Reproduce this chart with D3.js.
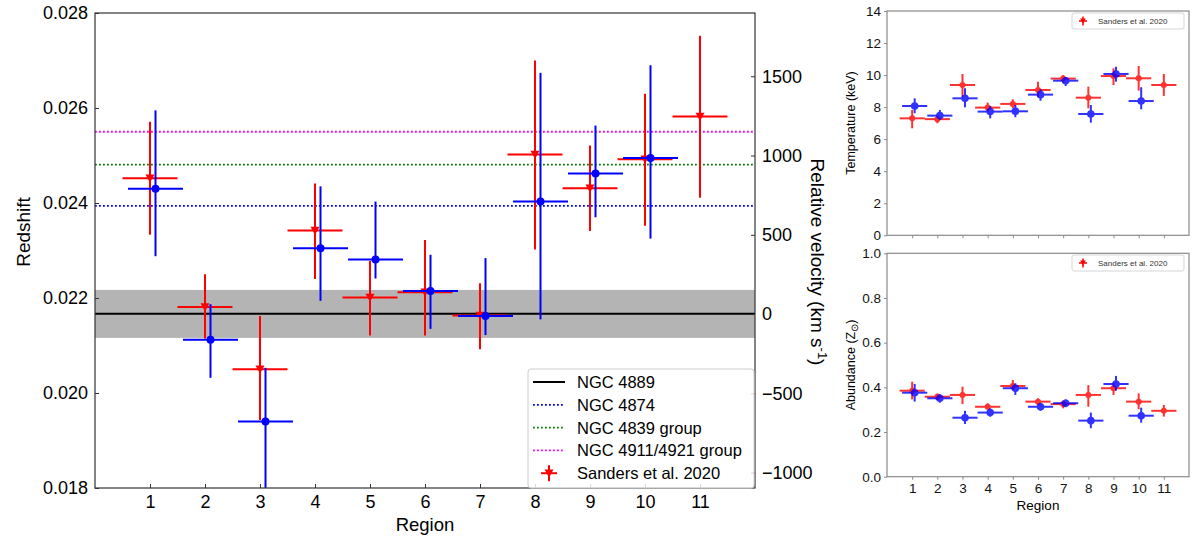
<!DOCTYPE html>
<html>
<head>
<meta charset="utf-8">
<script src="https://cdn.jsdelivr.net/npm/d3@7"></script>
<style>
  html, body { margin: 0; padding: 0; background: #fff; }
  svg { display: block; font-family: "Liberation Sans", Arial, sans-serif; }
</style>
</head>
<body>
<svg id="chart" width="1200" height="538"></svg>
<script>
// ---------------- DATA ----------------
const regions = [1, 2, 3, 4, 5, 6, 7, 8, 9, 10, 11];
const blueRegions = [1, 2, 3, 4, 5, 6, 7, 8, 9, 10];

// Redshift (Sanders et al. 2020, red)
const zRed   = [0.02452, 0.02181, 0.02050, 0.02342, 0.02201, 0.02212, 0.02163, 0.02502, 0.02431, 0.02492, 0.02582];
const zRedLo = [0.02333, 0.02115, 0.01943, 0.02240, 0.02121, 0.02121, 0.02092, 0.02302, 0.02341, 0.02352, 0.02411];
const zRedHi = [0.02571, 0.02250, 0.02162, 0.02441, 0.02278, 0.02322, 0.02231, 0.02700, 0.02521, 0.02630, 0.02752];
// Redshift (this work, blue)
const zBlue   = [0.02430, 0.02112, 0.01940, 0.02305, 0.02281, 0.02215, 0.02162, 0.02403, 0.02462, 0.02495];
const zBlueLo = [0.02288, 0.02032, 0.01770, 0.02194, 0.02241, 0.02135, 0.02122, 0.02155, 0.02370, 0.02325];
const zBlueHi = [0.02595, 0.02187, 0.02053, 0.02435, 0.02403, 0.02291, 0.02284, 0.02674, 0.02563, 0.02690];

// Reference redshifts
const zNGC4889 = 0.02167;
const zNGC4889Band = [0.02116, 0.02217];
const zNGC4874 = 0.02394;
const zNGC4839 = 0.02481;
const zNGC4911 = 0.02550;

const zTicks = [0.018, 0.020, 0.022, 0.024, 0.026, 0.028];
const vTicks = [-1000, -500, 0, 500, 1000, 1500];
const vDomain = [-1097, 1899];

// Temperature (keV)
const tRed   = [7.30, 7.25, 9.38, 7.97, 8.20, 9.07, 9.78, 8.59, 9.94, 9.80, 9.38];
const tRedLo = [6.68, 6.99, 8.65, 7.72, 7.93, 8.65, 9.53, 7.93, 9.38, 9.03, 8.70];
const tRedHi = [7.82, 7.50, 10.07, 8.28, 8.49, 9.59, 10.00, 9.28, 10.42, 10.57, 10.07];
const tBlue   = [8.07, 7.47, 8.55, 7.72, 7.74, 8.78, 9.65, 7.57, 10.07, 8.38];
const tBlueLo = [7.62, 7.20, 7.99, 7.30, 7.37, 8.40, 9.32, 7.03, 9.59, 7.86];
const tBlueHi = [8.55, 7.82, 9.18, 8.07, 8.13, 9.11, 9.86, 8.13, 10.52, 9.24];
const tTicks = [0, 2, 4, 6, 8, 10, 12, 14];

// Abundance (Zsun)
const aRed   = [0.385, 0.358, 0.366, 0.313, 0.406, 0.336, 0.325, 0.366, 0.396, 0.336, 0.295];
const aRedLo = [0.346, 0.343, 0.325, 0.302, 0.388, 0.321, 0.306, 0.313, 0.366, 0.302, 0.269];
const aRedHi = [0.425, 0.373, 0.403, 0.329, 0.433, 0.351, 0.340, 0.410, 0.421, 0.373, 0.321];
const aBlue   = [0.376, 0.351, 0.264, 0.287, 0.396, 0.313, 0.329, 0.251, 0.415, 0.273];
const aBlueLo = [0.336, 0.331, 0.236, 0.269, 0.366, 0.295, 0.311, 0.217, 0.385, 0.242];
const aBlueHi = [0.415, 0.370, 0.295, 0.306, 0.418, 0.331, 0.346, 0.287, 0.451, 0.309];
const aTicks = [0.0, 0.2, 0.4, 0.6, 0.8, 1.0];

const legendMain = ["NGC 4889", "NGC 4874", "NGC 4839 group", "NGC 4911/4921 group", "Sanders et al. 2020"];
const legendSmall = "Sanders et al. 2020";

// ---------------- DRAW ----------------
const RED = "#ff0000", BLUE = "#0000ff";
const svg = d3.select("#chart");
const blueOffset = 0.1, xHalf = 0.5;

function triPath(s) { return `M${-s},${-s*0.85}L${s},${-s*0.85}L0,${s}Z`; }

function drawSeries(g, xs, ys, lo, hi, xOff, color, x, y, opts) {
  const grp = g.append("g").attr("opacity", opts.opacity || 1);
  xs.forEach((r, i) => {
    const cx = x(r + xOff), cy = y(ys[i]);
    grp.append("line").attr("x1", x(r + xOff - xHalf)).attr("x2", x(r + xOff + xHalf))
      .attr("y1", cy).attr("y2", cy).attr("stroke", color).attr("stroke-width", opts.lw);
    grp.append("line").attr("x1", cx).attr("x2", cx)
      .attr("y1", y(lo[i])).attr("y2", y(hi[i])).attr("stroke", color).attr("stroke-width", opts.lw);
    if (opts.marker === "tri") {
      grp.append("path").attr("d", triPath(opts.ms)).attr("transform", `translate(${cx},${cy})`).attr("fill", color);
    } else {
      grp.append("circle").attr("cx", cx).attr("cy", cy).attr("r", opts.ms).attr("fill", color);
    }
  });
}

// ---- Main panel ----
const M = { l: 95, r: 755, t: 13, b: 488 };
const x = d3.scaleLinear().domain([0, 12]).range([M.l, M.r]);
const y = d3.scaleLinear().domain([0.018, 0.028]).range([M.b, M.t]);
const yv = d3.scaleLinear().domain(vDomain).range([M.b, M.t]);

svg.append("defs").append("clipPath").attr("id", "clipMain")
  .append("rect").attr("x", M.l).attr("y", M.t).attr("width", M.r - M.l).attr("height", M.b - M.t);

const gm = svg.append("g").attr("clip-path", "url(#clipMain)");
gm.append("rect").attr("x", M.l).attr("width", M.r - M.l)
  .attr("y", y(zNGC4889Band[1])).attr("height", y(zNGC4889Band[0]) - y(zNGC4889Band[1]))
  .attr("fill", "#b4b4b4");
gm.append("line").attr("x1", M.l).attr("x2", M.r).attr("y1", y(zNGC4889)).attr("y2", y(zNGC4889))
  .attr("stroke", "#000").attr("stroke-width", 2);
[[zNGC4874, "#0000ff"], [zNGC4839, "#008000"], [zNGC4911, "#ff00ff"]].forEach(([z, c]) => {
  gm.append("line").attr("x1", M.l).attr("x2", M.r).attr("y1", y(z)).attr("y2", y(z))
    .attr("stroke", c).attr("stroke-width", 1.8).attr("stroke-dasharray", "1.8,2.2");
});
drawSeries(gm, regions, zRed, zRedLo, zRedHi, 0, RED, x, y, { lw: 2, marker: "tri", ms: 4.5 });
drawSeries(gm, blueRegions, zBlue, zBlueLo, zBlueHi, blueOffset, BLUE, x, y, { lw: 2, marker: "circle", ms: 4 });

// frame
svg.append("rect").attr("x", M.l).attr("y", M.t).attr("width", M.r - M.l).attr("height", M.b - M.t)
  .attr("fill", "none").attr("stroke", "#333").attr("stroke-width", 1.2);

// axes
const axL = svg.append("g").attr("transform", `translate(${M.l},0)`)
  .call(d3.axisLeft(y).tickValues(zTicks).tickFormat(d3.format(".3f")).tickSizeInner(-4).tickSizeOuter(0).tickPadding(7));
const axR = svg.append("g").attr("transform", `translate(${M.r},0)`)
  .call(d3.axisRight(yv).tickValues(vTicks).tickFormat(d3.format("d")).tickSizeInner(-4).tickSizeOuter(0).tickPadding(7));
const axB = svg.append("g").attr("transform", `translate(0,${M.b})`)
  .call(d3.axisBottom(x).tickValues(regions).tickFormat(d3.format("d")).tickSizeInner(-4).tickSizeOuter(0).tickPadding(7));
[axL, axR, axB].forEach(a => {
  a.select(".domain").remove();
  a.selectAll("line").attr("stroke", "#333");
  a.selectAll("text").attr("font-size", 18).attr("fill", "#000")
    .attr("font-family", "Liberation Sans, Arial, sans-serif");
});

svg.append("text").attr("transform", `translate(30,232) rotate(-90)`).attr("text-anchor", "middle")
  .attr("font-size", 19).text("Redshift");
const rl = svg.append("text").attr("transform", `translate(811,262) rotate(90)`).attr("text-anchor", "middle")
  .attr("font-size", 19);
rl.append("tspan").text("Relative velocity (km s");
rl.append("tspan").attr("dy", -7).attr("font-size", 13).text("-1");
rl.append("tspan").attr("dy", 7).text(")");
svg.append("text").attr("x", (M.l + M.r) / 2).attr("y", 531).attr("text-anchor", "middle")
  .attr("font-size", 18.5).text("Region");

// legend
const L = { x: 528, y: 369, w: 226, h: 119 };
const lg = svg.append("g");
lg.append("rect").attr("x", L.x).attr("y", L.y).attr("width", L.w).attr("height", L.h).attr("rx", 3)
  .attr("fill", "#fff").attr("fill-opacity", 0.8).attr("stroke", "#cccccc").attr("stroke-width", 1);
const rowY = i => 382 + i * 22.8;
const lineStyles = [["#000", null, 2], ["#0000ff", "1.8,2.2", 1.8], ["#008000", "1.8,2.2", 1.8], ["#ff00ff", "1.8,2.2", 1.8]];
lineStyles.forEach(([c, dash, w], i) => {
  const l = lg.append("line").attr("x1", 533).attr("x2", 565).attr("y1", rowY(i)).attr("y2", rowY(i))
    .attr("stroke", c).attr("stroke-width", w);
  if (dash) l.attr("stroke-dasharray", dash);
});
{
  const cy = rowY(4), cx = 549;
  lg.append("line").attr("x1", cx - 8).attr("x2", cx + 8).attr("y1", cy).attr("y2", cy).attr("stroke", RED).attr("stroke-width", 2);
  lg.append("line").attr("x1", cx).attr("x2", cx).attr("y1", cy - 8).attr("y2", cy + 8).attr("stroke", RED).attr("stroke-width", 2);
  lg.append("path").attr("d", triPath(4.5)).attr("transform", `translate(${cx},${cy})`).attr("fill", RED);
}
legendMain.forEach((t, i) => {
  lg.append("text").attr("x", 577).attr("y", rowY(i) + 6).attr("font-size", 16.5).text(t);
});

// ---- Small panels ----
function smallPanel(top, bottom, domain, ticks, fmt, xs, ys, ysLo, ysHi, xb, yb, ybLo, ybHi, showX, legY) {
  const P = { l: 887, r: 1189 };
  const sx = d3.scaleLinear().domain([0, 12]).range([P.l, P.r]);
  const sy = d3.scaleLinear().domain(domain).range([bottom, top]);
  const g = svg.append("g");
  drawSeries(g, xs, ys, ysLo, ysHi, 0, RED, sx, sy, { lw: 2, marker: "circle", ms: 3, opacity: 0.8 });
  drawSeries(g, xb, yb, ybLo, ybHi, blueOffset, BLUE, sx, sy, { lw: 2, marker: "circle", ms: 3.8, opacity: 0.8 });
  g.append("rect").attr("x", P.l).attr("y", top).attr("width", P.r - P.l).attr("height", bottom - top)
    .attr("fill", "none").attr("stroke", "#8a8a8a").attr("stroke-width", 1.2);
  const ay = g.append("g").attr("transform", `translate(${P.l},0)`)
    .call(d3.axisLeft(sy).tickValues(ticks).tickFormat(fmt).tickSizeInner(3).tickSizeOuter(0).tickPadding(3));
  const ax = g.append("g").attr("transform", `translate(0,${bottom})`)
    .call(d3.axisBottom(sx).tickValues(regions).tickFormat(showX ? d3.format("d") : () => "").tickSizeInner(3).tickSizeOuter(0).tickPadding(4));
  [ay, ax].forEach(a => {
    a.select(".domain").remove();
    a.selectAll("line").attr("stroke", "#8a8a8a");
    a.selectAll("text").attr("font-size", 13.5).attr("fill", "#111")
      .attr("font-family", "Liberation Sans, Arial, sans-serif");
  });
  // legend
  const lgx = 1072, lgw = 112, lgh = 16;
  g.append("rect").attr("x", lgx).attr("y", legY).attr("width", lgw).attr("height", lgh).attr("rx", 2)
    .attr("fill", "#fff").attr("stroke", "#ccc").attr("stroke-width", 0.8);
  const mx = 1083, my = legY + lgh / 2;
  g.append("line").attr("x1", mx - 4).attr("x2", mx + 4).attr("y1", my).attr("y2", my).attr("stroke", RED).attr("stroke-width", 1.5);
  g.append("line").attr("x1", mx).attr("x2", mx).attr("y1", my - 4.5).attr("y2", my + 4.5).attr("stroke", RED).attr("stroke-width", 1.5);
  g.append("path").attr("d", triPath(2.8)).attr("transform", `translate(${mx},${my})`).attr("fill", RED);
  g.append("text").attr("x", 1098).attr("y", my + 3).attr("font-size", 8).attr("fill", "#333").text(legendSmall);
  return g;
}

smallPanel(11, 235.3, [0, 14], tTicks, d3.format("d"), regions, tRed, tRedLo, tRedHi,
  blueRegions, tBlue, tBlueLo, tBlueHi, false, 13);
smallPanel(253.3, 476.7, [0, 1], aTicks, d3.format(".1f"), regions, aRed, aRedLo, aRedHi,
  blueRegions, aBlue, aBlueLo, aBlueHi, true, 255);

svg.append("text").attr("transform", "translate(855,123) rotate(-90)").attr("text-anchor", "middle")
  .attr("font-size", 12.5).text("Temperature (keV)");
const ab = svg.append("text").attr("transform", "translate(855,365) rotate(-90)").attr("text-anchor", "middle")
  .attr("font-size", 12.5);
ab.append("tspan").text("Abundance (Z");
ab.append("tspan").attr("dy", 3).attr("font-size", 10).text("\u2299");
ab.append("tspan").attr("dy", -3).text(")");
svg.append("text").attr("x", (887 + 1189) / 2).attr("y", 510).attr("text-anchor", "middle")
  .attr("font-size", 13.5).text("Region");
</script>
</body>
</html>
